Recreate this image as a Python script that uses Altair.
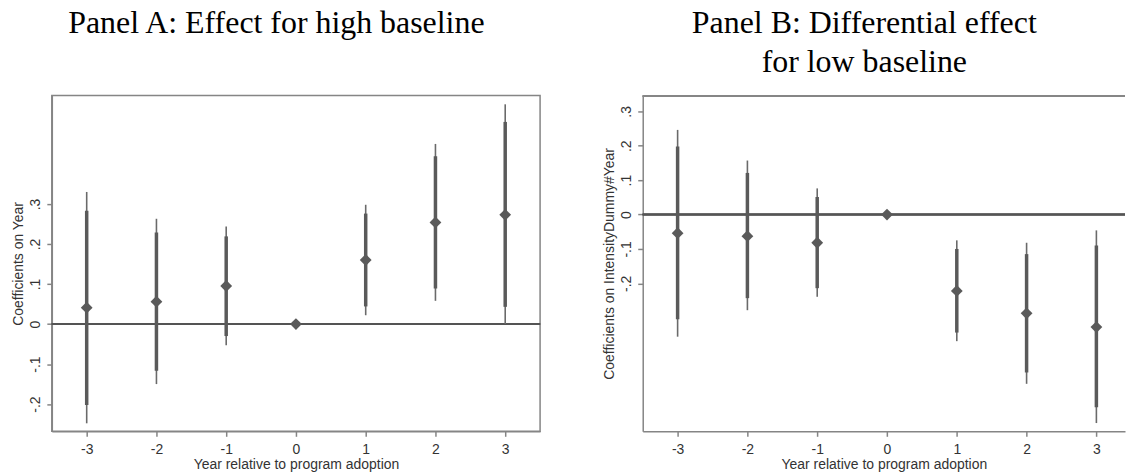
import altair as alt
import pandas as pd

years = [-3, -2, -1, 0, 1, 2, 3]

# Panel A: coefficient, inner (thick) CI, outer (thin) CI
a_coef = [0.041, 0.056, 0.095, 0.0, 0.160, 0.254, 0.273]
a_lo_in = [-0.202, -0.117, -0.030, None, 0.044, 0.089, 0.043]
a_hi_in = [0.283, 0.229, 0.219, None, 0.276, 0.419, 0.505]
a_lo_out = [-0.248, -0.150, -0.053, None, 0.022, 0.058, 0.000]
a_hi_out = [0.330, 0.263, 0.244, None, 0.298, 0.450, 0.549]

# Panel B
b_coef = [-0.054, -0.063, -0.082, 0.0, -0.222, -0.287, -0.327]
b_lo_in = [-0.304, -0.243, -0.214, None, -0.343, -0.459, -0.560]
b_hi_in = [0.198, 0.121, 0.051, None, -0.100, -0.115, -0.090]
b_lo_out = [-0.355, -0.278, -0.239, None, -0.368, -0.492, -0.606]
b_hi_out = [0.246, 0.157, 0.076, None, -0.075, -0.082, -0.046]

y_ticks = [-0.2, -0.1, 0.0, 0.1, 0.2, 0.3]

x_title = "Year relative to program adoption"
a_ytitle = "Coefficients on Year"
b_ytitle = "Coefficients on IntensityDummy#Year"
a_title = ["Panel A: Effect for high baseline", ""]
b_title = ["Panel B: Differential effect", "for low baseline"]

FRAME = "#858585"
INK = "#5a5a5a"
LABEL = "#333333"

y_label_expr = "datum.value == 0 ? '0' : (datum.value < 0 ? '-' : '') + '.' + round(abs(datum.value) * 10)"
x_label_expr = "(datum.value < 0 ? '-' : '') + abs(datum.value)"


def panel(coef, lo_in, hi_in, lo_out, hi_out, xdom, ydom, width, ytitle, title, full_frame):
    df = pd.DataFrame({
        "year": years, "coef": coef,
        "lo_in": lo_in, "hi_in": hi_in, "lo_out": lo_out, "hi_out": hi_out,
    })
    ci = df.dropna()

    xenc = alt.X("year:Q",
                 scale=alt.Scale(domain=xdom, nice=False, zero=False),
                 axis=alt.Axis(values=years, title=x_title, labelExpr=x_label_expr,
                               grid=False, tickSize=5, labelPadding=6, titlePadding=1))

    def yenc(field):
        return alt.Y(field + ":Q",
                     scale=alt.Scale(domain=ydom, nice=False, zero=False),
                     axis=alt.Axis(values=y_ticks, title=ytitle, labelExpr=y_label_expr,
                                   grid=False, tickSize=5, labelAngle=270,
                                   labelAlign="center", labelBaseline="alphabetic",
                                   labelPadding=7, titlePadding=3))

    zero = alt.Chart(df).mark_rule(color="#555555", strokeWidth=1.5).encode(
        y=alt.Y(datum=0, scale=alt.Scale(domain=ydom, nice=False, zero=False)))
    thin = alt.Chart(ci).mark_rule(color="#6a6a6a", strokeWidth=1.6).encode(
        x=xenc, y=yenc("lo_out"), y2="hi_out")
    thick = alt.Chart(ci).mark_rule(color=INK, strokeWidth=3.5).encode(
        x=xenc, y=yenc("lo_in"), y2="hi_in")
    pts = alt.Chart(df).mark_point(shape="diamond", filled=True, size=140,
                                   color=INK, opacity=1).encode(
        x=xenc, y=yenc("coef"))

    layers = [zero, thin, thick, pts]
    if full_frame:
        view = alt.ViewBackground(stroke=FRAME, strokeWidth=1.5)
    else:
        top = alt.Chart(df).mark_rule(color=FRAME, strokeWidth=1.2).encode(
            y=alt.value(0.5))
        layers.append(top)
        view = alt.ViewBackground(strokeOpacity=0)

    return alt.layer(*layers).properties(
        width=width, height=337, view=view,
        title=alt.TitleParams(text=title, font="Liberation Serif", fontSize=32,
                              fontWeight="normal", color="black", anchor="middle",
                              frame="bounds", lineHeight=40, offset=16),
    )


pa = panel(a_coef, a_lo_in, a_hi_in, a_lo_out, a_hi_out,
           [-3.5, 3.5], [-0.268, 0.571], 490, a_ytitle, a_title, True)
pb = panel(b_coef, b_lo_in, b_hi_in, b_lo_out, b_hi_out,
           [-3.5, 3.41], [-0.63, 0.346], 484, b_ytitle, b_title, False)

chart = alt.hconcat(pa, pb, spacing=60).properties(
    padding={"left": 11, "top": 5, "right": 0, "bottom": 0},
    background="white",
).configure_axis(
    labelFont="Liberation Sans", titleFont="Liberation Sans",
    labelFontSize=14, titleFontSize=14, labelColor=LABEL, titleColor=LABEL,
    titleFontWeight="normal", domainColor=FRAME, tickColor=FRAME,
    domainWidth=1.5, tickWidth=1.5,
)

chart.save("out.html", embed_options={"renderer": "svg", "actions": False})
